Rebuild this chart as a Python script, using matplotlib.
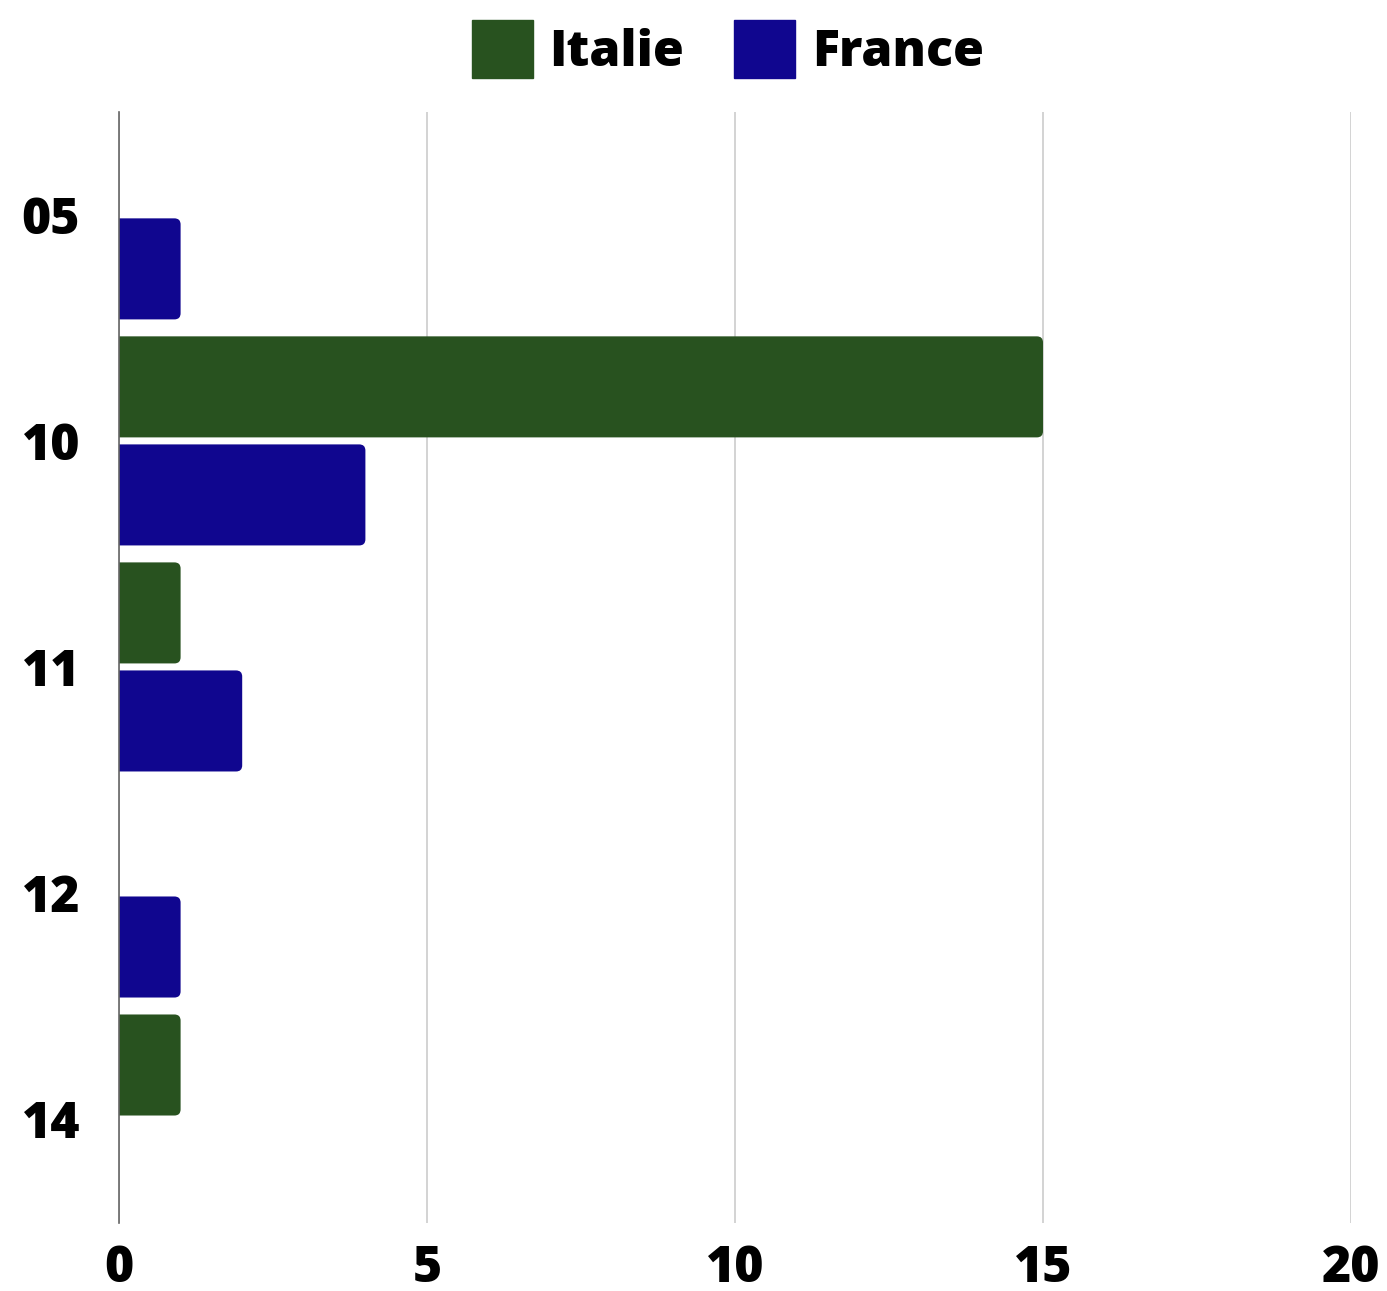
import numpy as np
import matplotlib
matplotlib.use('Agg')
import matplotlib.pyplot as plt
from matplotlib.patches import FancyBboxPatch, Patch

# dati
categorie = ['05', '10', '11', '12', '14']
italie = [0, 15, 1, 0, 1]
france = [1, 4, 2, 1, 0]
tick_x = [0, 5, 10, 15, 20]

verde = '#28521f'
blu = '#10068f'

plt.rcParams['font.family'] = ['Open Sans', 'DejaVu Sans']
plt.rcParams['font.weight'] = 'heavy'

fig = plt.figure(figsize=(13.87, 12.91), dpi=100)
ax = fig.add_axes([119 / 1387, 1 - 1223 / 1291, 1232 / 1387, 1111 / 1291])

y = np.arange(len(categorie))
h = 0.447
off = 0.239
b1 = ax.barh(y - off, italie, height=h, color=verde, label='Italie')
b2 = ax.barh(y + off, france, height=h, color=blu, label='France')

# angoli arrotondati solo a destra: il lato sinistro esce dall'asse e viene tagliato
r = 0.1
asp = (1232 / 20) / 226
for bars in (b1, b2):
    for p in bars:
        w = p.get_width()
        if w <= 0:
            continue
        p.set_visible(False)
        x0, y0, hh = p.get_x(), p.get_y(), p.get_height()
        ax.add_patch(FancyBboxPatch((x0 - 0.3, y0), w + 0.3, hh,
                                    boxstyle=f'round,pad=0,rounding_size={r}',
                                    mutation_aspect=asp, fc=p.get_facecolor(),
                                    ec='none', zorder=2))

ax.set_xlim(0, 20)
ax.set_ylim(4.46, -0.455)
ax.set_xticks(tick_x)
ax.set_yticks(y)
ax.set_yticklabels(categorie)
ax.tick_params(axis='both', length=0, labelsize=36)
ax.tick_params(axis='y', pad=28)
ax.tick_params(axis='x', pad=15)
ax.grid(axis='x', color='#cccccc', linewidth=1.2, zorder=0)
ax.set_axisbelow(True)
for s in ['top', 'right', 'bottom']:
    ax.spines[s].set_visible(False)
ax.spines['left'].set_color('#666666')
ax.spines['left'].set_linewidth(1.2)
ax.spines['left'].set_zorder(3)

handles = [Patch(color=verde, label='Italie'), Patch(color=blu, label='France')]
fig.legend(handles=handles, loc='center', bbox_to_anchor=(728 / 1387, 1 - 49 / 1291),
           ncol=2, frameon=False, fontsize=36, handlelength=1.22, handleheight=1.43,
           handletextpad=0.33, columnspacing=1.0)

plt.savefig('out.png', dpi=100)
